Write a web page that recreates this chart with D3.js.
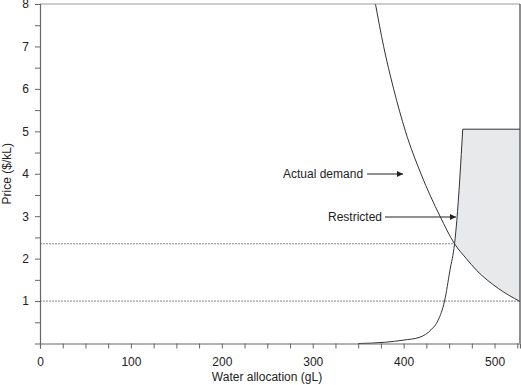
<!DOCTYPE html>
<html>
<head>
<meta charset="utf-8">
<script src="https://cdn.jsdelivr.net/npm/d3@7"></script>
<style>
  body { margin: 0; background: #fff; }
  text { font-family: "Liberation Sans", Arial, sans-serif; fill: #222; }
</style>
</head>
<body>
<div id="chart"></div>
<script>
const width = 521;
const height = 385;
const margin = { top: 4, right: 1, bottom: 41.5, left: 40 };

// demand curve: [allocation gL, price $/kL]
const demandQ = [369, 378, 389, 402, 419, 440, 456, 469, 480, 504, 528];
const demandP = [8, 7, 6, 5, 4, 3, 2.35, 2, 1.73, 1.3, 0.99];

// restricted supply curve
const restrictedQ = [350, 380, 400, 418, 430, 438, 445, 451, 456, 458.5, 465];
const restrictedP = [0, 0.03, 0.08, 0.15, 0.32, 0.55, 1.0, 1.73, 2.35, 2.9, 5.05];
const capPrice = 5.05;

// dotted reference prices
const refPrices = [2.35, 1];
const refEnds = [456, 528];

const xTicks = [0, 100, 200, 300, 400, 500];
const yTicks = [1, 2, 3, 4, 5, 6, 7, 8];

const svg = d3.select("#chart").append("svg")
  .attr("width", width)
  .attr("height", height);

const x = d3.scaleLinear().domain([0, 528]).range([margin.left, width - margin.right]);
const y = d3.scaleLinear().domain([0, 8]).range([height - margin.bottom, margin.top]);

const demand = demandQ.map((q, i) => [q, demandP[i]]);
const restricted = restrictedQ.map((q, i) => [q, restrictedP[i]]);

const line = d3.line().x(d => x(d[0])).y(d => y(d[1])).curve(d3.curveMonotoneX);

// shaded area: restricted curve above the crossing, cap, then demand back up
const iCross = restrictedP.indexOf(2.35);
const jCross = demandP.indexOf(2.35);
const shadePath = line(restricted.slice(iCross))
  + "L" + x(528) + "," + y(capPrice)
  + "L" + line(demand.slice(jCross).reverse()).slice(1) + "Z";

svg.append("path")
  .attr("d", shadePath)
  .attr("fill", "#e8e9eb");

// dotted lines
refPrices.forEach((p, i) => {
  svg.append("line")
    .attr("x1", x(0)).attr("x2", x(refEnds[i]))
    .attr("y1", y(p)).attr("y2", y(p))
    .attr("stroke", "#888")
    .attr("stroke-width", 1)
    .attr("stroke-dasharray", "2,1");
});

// curves
svg.append("path")
  .attr("d", line(demand))
  .attr("fill", "none").attr("stroke", "#333").attr("stroke-width", 1);

svg.append("path")
  .attr("d", line(restricted) + "L" + x(528) + "," + y(capPrice))
  .attr("fill", "none").attr("stroke", "#333").attr("stroke-width", 1);

// frame top and right
svg.append("line")
  .attr("x1", x(0)).attr("x2", x(528)).attr("y1", y(8)).attr("y2", y(8))
  .attr("stroke", "#999").attr("stroke-width", 1.2);
svg.append("line")
  .attr("x1", x(528)).attr("x2", x(528)).attr("y1", y(8)).attr("y2", y(0))
  .attr("stroke", "#444").attr("stroke-width", 1.2);

// axes
const xAxis = svg.append("g")
  .attr("transform", `translate(0,${y(0)})`)
  .call(d3.axisBottom(x).tickValues(d3.range(0, 526, 25)).tickSize(5)
    .tickFormat(d => xTicks.includes(d) ? d : ""));
const yAxis = svg.append("g")
  .attr("transform", `translate(${x(0)},0)`)
  .call(d3.axisLeft(y).tickValues(d3.range(0.5, 8.01, 0.5)).tickSize(5)
    .tickFormat(d => yTicks.includes(d) ? d : ""));

[xAxis, yAxis].forEach(g => {
  g.select(".domain").attr("stroke", "#666").attr("stroke-width", 1.2);
  g.selectAll(".tick line").attr("stroke", "#666");
  g.selectAll(".tick text")
    .attr("font-family", "'Liberation Sans', Arial, sans-serif")
    .attr("font-size", 12).attr("fill", "#222");
});
xAxis.selectAll(".tick text").attr("dy", "1.2em");
yAxis.selectAll(".tick text").attr("x", -11);

// axis titles
svg.append("text")
  .attr("x", 267).attr("y", 381)
  .attr("text-anchor", "middle").attr("font-size", 12)
  .text("Water allocation (gL)");
svg.append("text")
  .attr("transform", `translate(11,${(y(0) + y(8)) / 2}) rotate(-90)`)
  .attr("text-anchor", "middle").attr("font-size", 12)
  .text("Price ($/kL)");

// annotations
const defs = svg.append("defs");
defs.append("marker")
  .attr("id", "arrow")
  .attr("viewBox", "0 -5 10 10")
  .attr("refX", 10)
  .attr("markerWidth", 10)
  .attr("markerHeight", 6)
  .attr("markerUnits", "userSpaceOnUse")
  .attr("orient", "auto")
  .append("path")
  .attr("d", "M0,-5L10,0L0,5Z")
  .attr("fill", "#222");

const notes = [
  { label: "Actual demand", tx: 283, ty: 174, x1: 367, x2: 403 },
  { label: "Restricted", tx: 328, ty: 217, x1: 385, x2: 456 }
];
notes.forEach(n => {
  svg.append("text")
    .attr("x", n.tx).attr("y", n.ty).attr("dy", "0.35em")
    .attr("font-size", 12).text(n.label);
  svg.append("line")
    .attr("x1", n.x1).attr("x2", n.x2).attr("y1", n.ty).attr("y2", n.ty)
    .attr("stroke", "#222").attr("stroke-width", 1)
    .attr("marker-end", "url(#arrow)");
});
</script>
</body>
</html>
